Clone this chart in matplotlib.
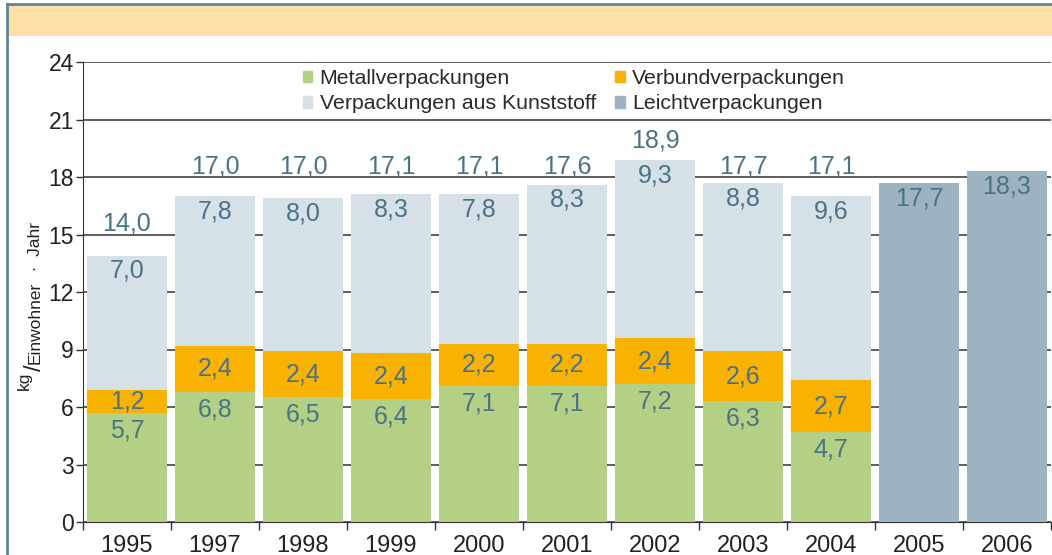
import matplotlib
matplotlib.use("Agg")
import matplotlib.pyplot as plt
from matplotlib.patches import Rectangle, Patch
from matplotlib.lines import Line2D
import numpy as np

plt.rcParams['font.family'] = ['Liberation Sans', 'DejaVu Sans']

years = ['1995', '1997', '1998', '1999', '2000', '2001', '2002', '2003', '2004', '2005', '2006']
metall = [5.7, 6.8, 6.5, 6.4, 7.1, 7.1, 7.2, 6.3, 4.7]
verbund = [1.2, 2.4, 2.4, 2.4, 2.2, 2.2, 2.4, 2.6, 2.7]
kunststoff = [7.0, 7.8, 8.0, 8.3, 7.8, 8.3, 9.3, 8.8, 9.6]
totals = [14.0, 17.0, 17.0, 17.1, 17.1, 17.6, 18.9, 17.7, 17.1]
leicht = [17.7, 18.3]

series_names = ['Metallverpackungen', 'Verbundverpackungen',
                'Verpackungen aus Kunststoff', 'Leichtverpackungen']
c_metall = '#b3d084'
c_verbund = '#f9b200'
c_kunst = '#d6e0e7'
c_leicht = '#9db3c1'
c_text = '#4a7385'

def fmt(v):
    return f'{v:.1f}'.replace('.', ',')

W, H = 1052, 555
fig = plt.figure(figsize=(W / 100, H / 100), dpi=100)

# frame and header band
fig.patches.append(Rectangle((8/W, 1 - 36/H), 1 - 8/W, 31/H,
                             transform=fig.transFigure, facecolor='#ffdfa8',
                             edgecolor='none', zorder=0))
fig.lines.append(Line2D([7/W, 7/W], [0, 1 - 4/H], transform=fig.transFigure,
                        color='#5f8499', lw=2))
fig.lines.append(Line2D([7/W, 1], [1 - 4/H, 1 - 4/H], transform=fig.transFigure,
                        color='#5f8499', lw=2))

ax = fig.add_axes([83/W, 33/H, 968/W, 460/H])
n_stack = len(metall)
x_stack = np.arange(n_stack)
x_leicht = np.arange(n_stack, len(years))
w = 80/88

bot2 = np.array(metall)
bot3 = bot2 + np.array(verbund)
ax.bar(x_stack, metall, width=w, color=c_metall, zorder=3)
ax.bar(x_stack, verbund, width=w, bottom=bot2, color=c_verbund, zorder=3)
ax.bar(x_stack, kunststoff, width=w, bottom=bot3, color=c_kunst, zorder=3)
ax.bar(x_leicht, leicht, width=w, color=c_leicht, zorder=3)

fs = 18
for i in range(n_stack):
    top1 = metall[i]
    ax.annotate(fmt(metall[i]), (i, top1), xytext=(0, -12.5), textcoords='offset points',
                ha='center', va='center', color=c_text, fontsize=fs, zorder=5)
    ax.text(i, bot2[i] + verbund[i]/2, fmt(verbund[i]), ha='center', va='center',
            color=c_text, fontsize=fs, zorder=5)
    top3 = bot3[i] + kunststoff[i]
    ax.annotate(fmt(kunststoff[i]), (i, top3), xytext=(0, -11), textcoords='offset points',
                ha='center', va='center', color=c_text, fontsize=fs, zorder=5)
    # total label: sit on the next gridline above the bar if close, else just above bar
    grid_above = 3 * np.ceil(top3 / 3)
    base = grid_above + 0.2 if grid_above - top3 < 1.5 else top3 + 0.65
    ax.text(i, base, fmt(totals[i]), ha='center', va='baseline',
            color=c_text, fontsize=fs, zorder=5)
for j, xi in enumerate(x_leicht):
    ax.annotate(fmt(leicht[j]), (xi, leicht[j]), xytext=(0, -11), textcoords='offset points',
                ha='center', va='center', color=c_text, fontsize=fs, zorder=5)

ax.set_xlim(-0.5, len(years) - 0.5)
ax.set_ylim(0, 24)
ax.set_yticks(np.arange(0, 25, 3))
ax.yaxis.grid(True, color='#333333', lw=1.1, zorder=0)
ax.set_axisbelow(True)
ax.set_xticks(np.arange(len(years)))
ax.set_xticklabels(years)
ax.set_xticks(np.arange(-0.5, len(years)), minor=True)
ax.tick_params(axis='x', which='major', length=0, labelsize=17, pad=9, colors='#222222')
ax.tick_params(axis='x', which='minor', length=6, width=1, direction='out', color='#333333')
ax.tick_params(axis='y', length=5, width=1, labelsize=16.5, pad=1.5, colors='#222222', color='#333333')
for s in ['top', 'right']:
    ax.spines[s].set_visible(False)
ax.spines['left'].set_color('#333333')
ax.spines['bottom'].set_color('#333333')

handles = [Patch(color=c_metall), Patch(color=c_kunst), Patch(color=c_verbund), Patch(color=c_leicht)]
labels = [series_names[0], series_names[2], series_names[1], series_names[3]]
leg = ax.legend(handles, labels, ncol=2, frameon=False, loc='upper center',
                bbox_to_anchor=(0.507, 1.003), fontsize=15.3, handlelength=0.45, handleheight=0.45,
                handletextpad=0.35, columnspacing=0.9, labelspacing=0.3, borderaxespad=0.0)
for t in leg.get_texts():
    t.set_color('#2a2a2a')

# y-axis unit label: kg (raised) / Einwohner · Jahr, rotated, built piecewise
fig.canvas.draw()
renderer = fig.canvas.get_renderer()
unit_pieces = [('kg', 11, 12.5), ('/', -1, 17), ('Einwohner', 0, 12.5), ('  ·  Jahr', 0, 12.5)]
base_x = 40          # pixel column of the baseline
y_cur = H - 390      # display y (from bottom) where the label starts
for txt, rise, size in unit_pieces:
    t = fig.text((base_x - rise) / W, y_cur / H, txt, rotation=90, rotation_mode='anchor',
                 ha='left', va='baseline', fontsize=size, color='#222222')
    bb = t.get_window_extent(renderer)
    y_cur = bb.y1 + 0.5

fig.savefig('out.png', dpi=100)
